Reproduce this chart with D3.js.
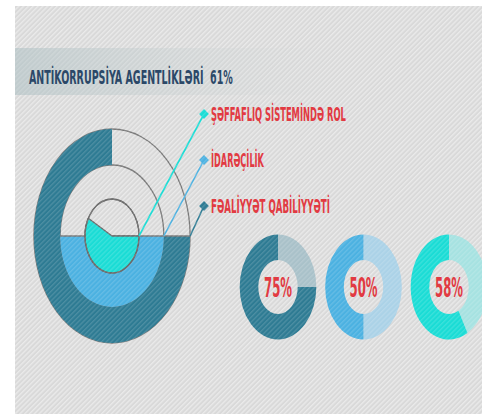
<!DOCTYPE html>
<html>
<head>
<meta charset="utf-8">
<script src="https://cdn.jsdelivr.net/npm/d3@7"></script>
<style>
  body { margin: 0; background: #fff; }
</style>
</head>
<body>
<div id="chart"></div>
<script>
// Data
const titleText = "ANTİKORRUPSİYA AGENTLİKLƏRİ";
const titleValue = "61%";
// rings from the inside out
const categories = ["ŞƏFFAFLIQ SİSTEMİNDƏ ROL", "İDARƏÇİLİK", "FƏALİYYƏT QABİLİYYƏTİ"];
const values = [58, 50, 75];
const colors = ["#1adcd5", "#4bb1e1", "#2e7b93"];
const lightColors = ["#a6e2e1", "#abd2e7", "#a9c1c9"];
// order of the three small donuts, left to right
const smallOrder = ["FƏALİYYƏT QABİLİYYƏTİ", "İDARƏÇİLİK", "ŞƏFFAFLIQ SİSTEMİNDƏ ROL"];

const W = 488, H = 414;
const sx = 0.73; // the artwork is squeezed horizontally
const font = "'DejaVu Sans Condensed', 'DejaVu Sans', sans-serif";

const svg = d3.select("#chart").append("svg")
    .attr("width", W)
    .attr("height", H);

const defs = svg.append("defs");

// diagonal stripe background
const pat = defs.append("pattern")
    .attr("id", "stripes")
    .attr("patternUnits", "userSpaceOnUse")
    .attr("width", 3.4).attr("height", 3.4)
    .attr("patternTransform", "rotate(45)");
pat.append("rect").attr("width", 3.4).attr("height", 3.4).attr("fill", "#d9d9d9");
pat.append("rect").attr("width", 1.3).attr("height", 3.4).attr("fill", "#e6e6e6");

const pat2 = defs.append("pattern")
    .attr("id", "stripesTop")
    .attr("patternUnits", "userSpaceOnUse")
    .attr("width", 3.4).attr("height", 3.4)
    .attr("patternTransform", "rotate(45)");
pat2.append("rect").attr("width", 1.3).attr("height", 3.4).attr("fill", "#fff").attr("opacity", 0.15);

const grad = defs.append("linearGradient").attr("id", "banner").attr("x1", 0).attr("x2", 1);
grad.append("stop").attr("offset", 0).attr("stop-color", "#c0cbcd").attr("stop-opacity", 1);
grad.append("stop").attr("offset", 0.4).attr("stop-color", "#c8d0d1").attr("stop-opacity", 0.6);
grad.append("stop").attr("offset", 1).attr("stop-color", "#d6d9d9").attr("stop-opacity", 0);

defs.append("clipPath").attr("id", "panelClip")
  .append("rect").attr("x", 15).attr("y", 6).attr("width", 467).attr("height", 408);

const g = svg.append("g").attr("clip-path", "url(#panelClip)");
g.append("rect").attr("x", 15).attr("y", 6).attr("width", 467).attr("height", 408)
    .attr("fill", "url(#stripes)");

// title banner
g.append("rect").attr("x", 15).attr("y", 48).attr("width", 330).attr("height", 47)
    .attr("fill", "url(#banner)");

// texts sit in their own layer, outside the clip
const textLayer = svg.append("g");

// squeeze a text horizontally to a given width
function condensed(sel, text, x, y, size, width, color, anchor) {
  const t = sel.append("text")
      .attr("font-family", font)
      .attr("font-weight", "bold")
      .attr("font-size", size)
      .attr("fill", color)
      .attr("text-anchor", anchor || "start")
      .style("white-space", "pre")
      .text(text);
  const len = t.node().getComputedTextLength();
  t.attr("transform", `translate(${x},${y}) scale(${width / len},1)`);
  return t;
}

condensed(textLayer, titleText + "  " + titleValue, 29, 84, 19.5, 204, "#2b4868");

// big nested donut
const cx = 112, cy = 236;
const outerR = [37, 71, 107];
const innerR = [0, 37, 71];
const angle = d3.scaleLinear().domain([0, 100]).range([0, 2 * Math.PI]);
const start = Math.PI / 2; // 3 o'clock, going clockwise

const big = g.append("g").attr("transform", `translate(${cx},${cy}) scale(${sx},1)`);

// outlines of the empty parts
big.selectAll("circle.outline")
  .data(outerR)
  .enter().append("circle")
    .attr("class", "outline")
    .attr("r", d => d)
    .attr("fill", "none")
    .attr("stroke", "#777")
    .attr("stroke-width", 1.3)
    .attr("vector-effect", "non-scaling-stroke");

// middle and outer rings
[2, 1].forEach(i => {
  big.append("path")
      .attr("d", d3.arc()
        .innerRadius(innerR[i])
        .outerRadius(outerR[i])
        .startAngle(start)
        .endAngle(start + angle(values[i]))())
      .attr("fill", colors[i]);
});

big.append("line")
    .attr("x1", -outerR[1]).attr("x2", outerR[2])
    .attr("stroke", "#777")
    .attr("stroke-width", 1.3)
    .attr("vector-effect", "non-scaling-stroke");

// inner pie
big.append("path")
    .attr("d", d3.arc()
      .innerRadius(0)
      .outerRadius(outerR[0])
      .startAngle(start)
      .endAngle(start + angle(values[0]))())
    .attr("fill", colors[0])
    .attr("stroke", "#6a6a6a")
    .attr("stroke-width", 1.3)
    .attr("stroke-linejoin", "round")
    .attr("vector-effect", "non-scaling-stroke");

big.append("circle")
    .attr("r", outerR[0])
    .attr("fill", "none")
    .attr("stroke", "#6a6a6a")
    .attr("stroke-width", 1.3)
    .attr("vector-effect", "non-scaling-stroke");

// leader lines and labels
const labelY = d3.scalePoint().domain(categories).range([114, 206]);
const tipX = 204;
const labelWidths = [135, 53, 119];

categories.forEach((c, i) => {
  const y = labelY(c);
  g.append("line")
      .attr("x1", cx + outerR[i] * sx).attr("y1", cy)
      .attr("x2", tipX).attr("y2", y)
      .attr("stroke", colors[i])
      .attr("stroke-width", 1.6);
  g.append("rect")
      .attr("x", -3.5).attr("y", -3.5)
      .attr("width", 7).attr("height", 7)
      .attr("transform", `translate(${tipX},${y}) rotate(45)`)
      .attr("fill", colors[i]);
  condensed(textLayer, c, 211, y + 7, 19, labelWidths[i], "#e23a42");
});

// small donuts
const px = d3.scalePoint().domain(smallOrder).range([278, 449]);
const py = 287;
const sArc = d3.arc().innerRadius(27).outerRadius(52.5);

smallOrder.forEach(c => {
  const i = categories.indexOf(c);
  const v = values[i];
  const sg = g.append("g").attr("transform", `translate(${px(c)},${py}) scale(${sx},1)`);
  // value goes counter-clockwise from 12 o'clock
  sg.append("path")
      .attr("d", sArc({ startAngle: 0, endAngle: 2 * Math.PI - angle(v) }))
      .attr("fill", lightColors[i]);
  sg.append("path")
      .attr("d", sArc({ startAngle: -angle(v), endAngle: 0 }))
      .attr("fill", colors[i]);
  condensed(textLayer, v + "%", px(c), py + 10, 27, 28, "#e23a42", "middle");
});

// faint stripes over the artwork
g.append("rect").attr("x", 15).attr("y", 6).attr("width", 467).attr("height", 408)
    .attr("fill", "url(#stripesTop)")
    .attr("pointer-events", "none");
</script>
</body>
</html>
